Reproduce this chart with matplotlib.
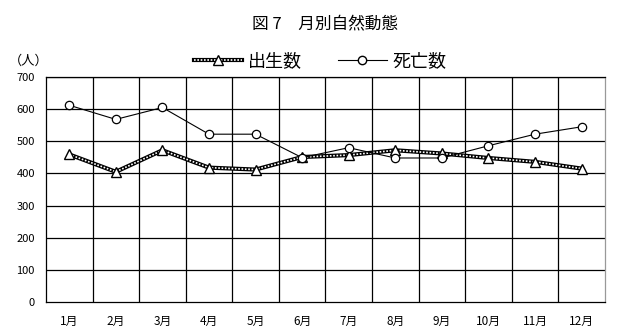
import matplotlib.pyplot as plt
from matplotlib.lines import Line2D

plt.rcParams['font.family'] = ['Noto Sans CJK JP', 'DejaVu Sans']

months = ['1月', '2月', '3月', '4月', '5月', '6月', '7月', '8月', '9月', '10月', '11月', '12月']
births = [459, 405, 472, 418, 412, 451, 457, 472, 462, 448, 436, 415]
deaths = [612, 568, 605, 522, 522, 449, 480, 448, 448, 486, 522, 545]

fig = plt.figure(figsize=(6.21, 3.36), dpi=100)
ax = fig.add_axes([0.074, 0.101, 0.900, 0.670])

x = list(range(len(months)))

# births: thick patterned line
ax.plot(x, births, color='black', lw=3.0, zorder=3, solid_capstyle='butt')
ax.plot(x, births, color='white', lw=1.2, ls=(0, (1, 1)), zorder=4)
ax.plot(x, births, ls='none', marker='^', ms=7, mfc='white', mec='black', mew=1, zorder=5)

# deaths: thin line with circles
ax.plot(x, deaths, color='black', lw=0.8, marker='o', ms=6, mfc='white', mec='black', mew=0.9, zorder=6)

ax.set_xlim(-0.5, len(months) - 0.5)
ax.set_ylim(0, 700)
ax.set_yticks(range(0, 701, 100))
ax.set_xticks(x)
ax.set_xticklabels(months, fontsize=8.5)
ax.tick_params(axis='y', labelsize=8, length=0, pad=8)
ax.tick_params(axis='x', length=0, pad=9)

# grid lines
for v in range(100, 701, 100):
    ax.axhline(v, color='black', lw=0.9, zorder=1)
for b in range(1, len(months)):
    ax.axvline(b - 0.5, color='black', lw=0.9, zorder=1)

for s in ['left', 'bottom', 'top']:
    ax.spines[s].set_color('black')
    ax.spines[s].set_linewidth(0.9)
ax.spines['right'].set_color('#999999')
ax.spines['right'].set_linewidth(0.9)

fig.text(0.523, 0.93, '図 7　月別自然動態', ha='center', va='center', fontsize=12)
fig.text(0.014, 0.818, '（人）', ha='left', va='center', fontsize=9.5)

h_birth = (Line2D([], [], color='black', lw=3.0),
           Line2D([], [], color='white', lw=1.2, ls=(0, (1, 1))),
           Line2D([], [], ls='none', marker='^', ms=7, mfc='white', mec='black'))
h_death = Line2D([], [], color='black', lw=0.8, marker='o', ms=6, mfc='white', mec='black')
fig.legend([h_birth, h_death], ['出生数', '死亡数'], loc='center',
           bbox_to_anchor=(0.515, 0.817), ncol=2, frameon=False, fontsize=13,
           handlelength=2.7, columnspacing=2.0, handletextpad=0.3)

plt.savefig('out.png', dpi=100)
